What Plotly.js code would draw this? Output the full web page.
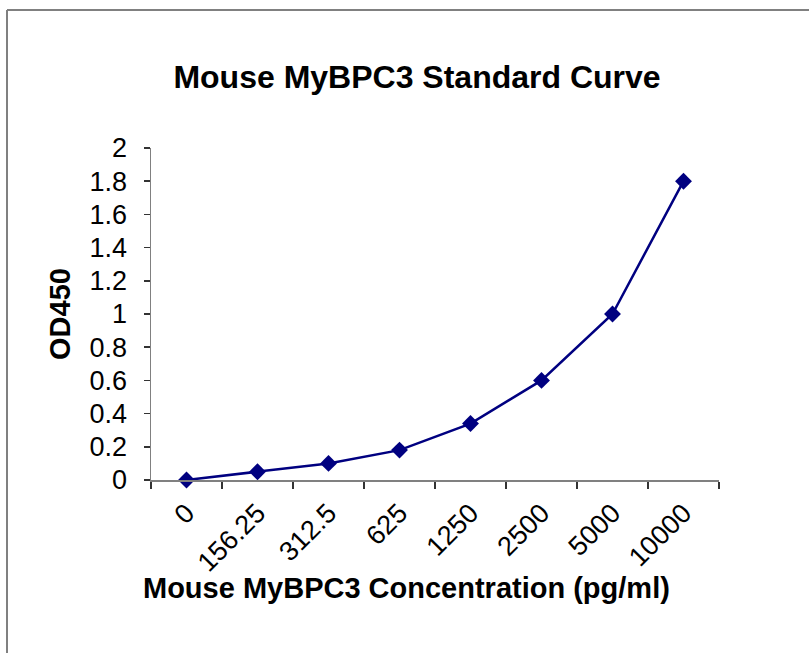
<!DOCTYPE html>
<html>
<head>
<meta charset="utf-8">
<script src="https://cdn.plot.ly/plotly-3.0.1.min.js"></script>
<style>
html,body{margin:0;padding:0;background:#fff;}
#chart{width:809px;height:653px;}
</style>
</head>
<body>
<div id="chart"></div>
<script>
const categories = ["0", "156.25", "312.5", "625", "1250", "2500", "5000", "10000"];
const od450 = [0, 0.05, 0.10, 0.18, 0.34, 0.60, 1.00, 1.80];
const yTickVals = [0, 0.2, 0.4, 0.6, 0.8, 1, 1.2, 1.4, 1.6, 1.8, 2];
const yTickText = ["0", "0.2", "0.4", "0.6", "0.8", "1", "1.2", "1.4", "1.6", "1.8", "2"];

const FONT = "Liberation Sans, Arial, sans-serif";

const trace = {
  x: categories,
  y: od450,
  type: "scatter",
  mode: "lines+markers",
  line: {color: "#000080", width: 2.5},
  marker: {symbol: "diamond", size: 13, color: "#000080"},
  cliponaxis: false,
  hoverinfo: "x+y"
};

const layout = {
  width: 809,
  height: 653,
  margin: {l: 151, r: 90, t: 148, b: 173},
  paper_bgcolor: "#ffffff",
  plot_bgcolor: "#ffffff",
  showlegend: false,
  font: {family: FONT, color: "#000000"},
  title: {
    text: "<b>Mouse MyBPC3 Standard Curve</b>",
    font: {family: FONT, size: 32, color: "#000000"},
    x: 417/809, xanchor: "center", xref: "container",
    y: 1 - 77/653, yanchor: "middle", yref: "container"
  },
  xaxis: {
    type: "category",
    tickson: "boundaries",
    ticks: "outside",
    ticklen: 7,
    tickwidth: 1.5,
    tickcolor: "#333333",
    showline: true,
    linecolor: "#808080",
    linewidth: 1.5,
    showgrid: false,
    zeroline: false,
    tickangle: -45,
    tickfont: {family: FONT, size: 27, color: "#000000"},
    ticklabelstandoff: 5,
    range: [-0.5, 7.5],
    fixedrange: true
  },
  yaxis: {
    range: [0, 2],
    tickvals: yTickVals,
    ticktext: yTickText,
    ticks: "outside",
    ticklen: 6,
    tickwidth: 1.5,
    tickcolor: "#333333",
    showline: true,
    linecolor: "#808080",
    linewidth: 1.5,
    showgrid: false,
    zeroline: false,
    tickfont: {family: FONT, size: 27, color: "#000000"},
    ticklabelstandoff: 11,
    title: {
      text: "<b>OD450</b>",
      font: {family: FONT, size: 29, color: "#000000"},
      standoff: 10
    },
    fixedrange: true
  },
  annotations: [{
    text: "<b>Mouse MyBPC3 Concentration (pg/ml)</b>",
    xref: "paper", yref: "paper",
    x: (406 - 151)/568, y: (480 - 588)/332,
    xanchor: "center", yanchor: "middle",
    showarrow: false,
    font: {family: FONT, size: 29, color: "#000000"}
  }],
  shapes: [
    {type: "line", xref: "paper", yref: "paper",
     x0: (7 - 151)/568, x1: (809 - 151)/568, y0: (480 - 10)/332, y1: (480 - 10)/332,
     line: {color: "#808080", width: 2}},
    {type: "line", xref: "paper", yref: "paper",
     x0: (7 - 151)/568, x1: (7 - 151)/568, y0: (480 - 10)/332, y1: (480 - 653)/332,
     line: {color: "#808080", width: 2}}
  ]
};

Plotly.newPlot("chart", [trace], layout, {displayModeBar: false, staticPlot: true});
</script>
</body>
</html>
